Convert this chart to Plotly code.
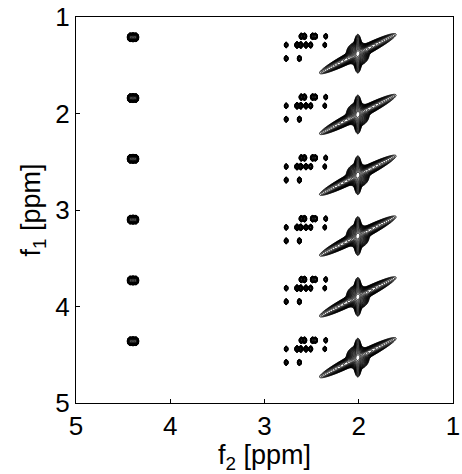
import numpy as np
import plotly.graph_objects as go

# ---- data (ppm) ----
row_f1 = [1.21, 1.84, 2.47, 3.10, 3.73, 4.36]          # f1 of each repeated pattern

left_f2 = [4.365, 4.395, 4.425]                        # left-column multiplet
left_df1 = [0.0, 0.0, 0.0]
left_amp = [0.5, 0.7, 0.5]

small_f2 = [2.61, 2.575, 2.49, 2.46, 2.35,
            2.77, 2.655, 2.615, 2.56, 2.51, 2.36,
            2.77, 2.63]
small_df1 = [-0.01, -0.01, -0.01, -0.01, -0.01,
             0.08, 0.08, 0.08, 0.08, 0.08, 0.08,
             0.22, 0.22]
small_amp = [0.25, 0.3, 0.3, 0.25, 0.12,
             0.12, 0.3, 0.3, 0.25, 0.2, 0.1,
             0.15, 0.2]

diag_f2 = 2.01
diag_df1 = 0.17
diag_amp = [0.35, 0.6, 1.0]          # elongated ridge, vertical spike, core

x_ticks = [5, 4, 3, 2, 1]
y_ticks = [1, 2, 3, 4, 5]


def gauss(X, Y, cx, cy, sx, sy, amp):
    return amp * np.exp(-0.5 * (((X - cx) / sx) ** 2 + ((Y - cy) / sy) ** 2))


def rot_gauss(X, Y, cx, cy, smaj, smin, c, s, amp):
    dx, dy = X - cx, Y - cy
    u = dx * c + dy * s
    v = -dx * s + dy * c
    return amp * np.exp(-0.5 * ((u / smaj) ** 2 + (v / smin) ** 2))


# left grid
xl = np.arange(4.28, 4.51, 0.002)
yl = np.arange(1.0, 5.0, 0.003)
XL, YL = np.meshgrid(xl, yl)
ZL = np.zeros_like(XL)
for r in row_f1:
    for f2, d, a in zip(left_f2, left_df1, left_amp):
        ZL += gauss(XL, YL, f2, r + d, 0.011, 0.016, a)

# right grid
xr = np.arange(1.45, 2.86, 0.003)
yr = np.arange(1.0, 5.0, 0.003)
XR, YR = np.meshgrid(xr, yr)
ZR = np.zeros_like(XR)
ang = np.arctan2(0.5, 1.0)
ca, sa = np.cos(ang), np.sin(ang)
for r in row_f1:
    for f2, d, a in zip(small_f2, small_df1, small_amp):
        ZR += gauss(XR, YR, f2, r + d, 0.009, 0.013, a)
    cy = r + diag_df1
    ZR += rot_gauss(XR, YR, diag_f2, cy, 0.17, 0.021, ca, sa, diag_amp[0])
    ZR += gauss(XR, YR, diag_f2, cy, 0.016, 0.07, diag_amp[1])
    ZR += gauss(XR, YR, diag_f2, cy, 0.04, 0.04, diag_amp[2])

eps = 1e-6
ZLl = np.log10(ZL + eps).astype(np.float32)
ZRl = np.log10(ZR + eps).astype(np.float32)

common = dict(
    contours=dict(coloring="lines", start=-2.0, end=0.2, size=0.12),
    colorscale=[[0, "black"], [1, "black"]],
    line=dict(width=1),
    showscale=False,
    hoverinfo="skip",
)

fig = go.Figure()
fig.add_trace(go.Contour(x=xl, y=yl, z=ZLl, **common))
fig.add_trace(go.Contour(x=xr, y=yr, z=ZRl, **common))

FONT = "Liberation Sans, Arial"
axis_common = dict(
    showline=True, mirror=True, linecolor="black", linewidth=1,
    ticks="inside", ticklen=4, tickcolor="black",
    showgrid=False, zeroline=False, ticklabeloverflow="allow",
    tickfont=dict(family=FONT, size=26, color="black"),
)

fig.update_layout(
    width=462, height=474,
    margin=dict(l=76, r=2, t=16, b=71),
    paper_bgcolor="white", plot_bgcolor="white",
    xaxis=dict(range=[5, 1], tickvals=x_ticks, ticktext=[str(v) for v in x_ticks],
               title=dict(text="f<sub>2</sub> [ppm]", standoff=0,
                          font=dict(family=FONT, size=27, color="black")),
               **axis_common),
    yaxis=dict(range=[5, 1], tickvals=y_ticks, ticktext=[str(v) for v in y_ticks],
               title=dict(text="f<sub>1</sub> [ppm]", standoff=6,
                          font=dict(family=FONT, size=27, color="black")),
               **axis_common),
    showlegend=False,
)

fig.write_html("out.html")
